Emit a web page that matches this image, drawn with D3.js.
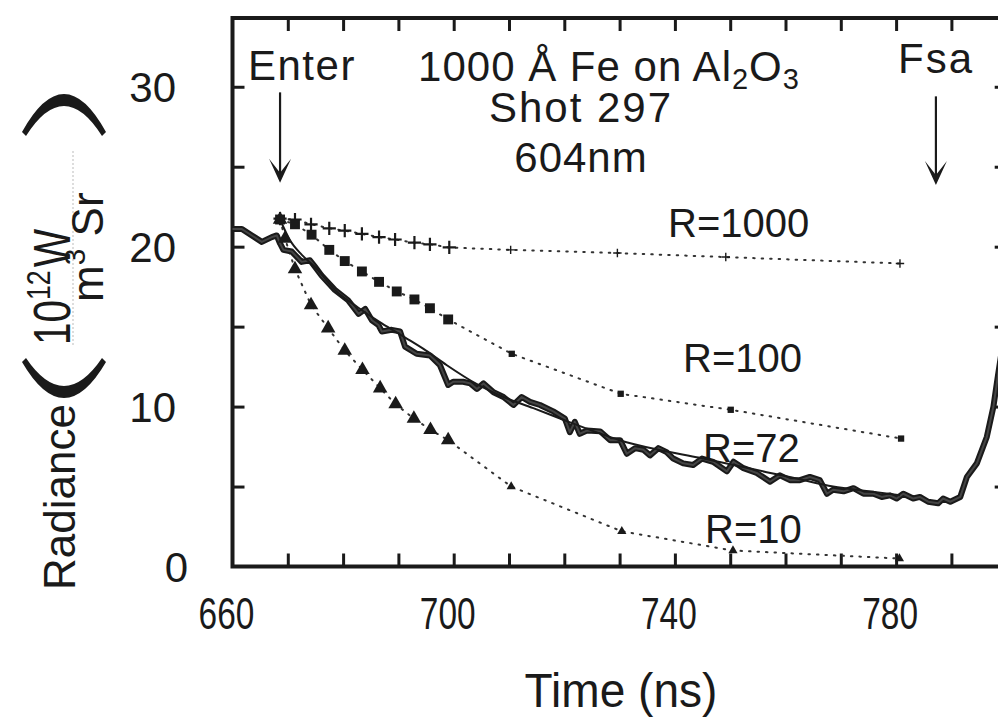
<!DOCTYPE html>
<meta charset="utf-8">
<style>
body { margin: 0; background: #fff; }
text { font-family: "Liberation Sans", Arial, Helvetica, sans-serif; fill: #1a1a1a; }
.frame { fill: none; stroke: #1a1a1a; stroke-width: 4; }
.ticks line { stroke: #1a1a1a; stroke-width: 3; }
.ticks path { display: none; }
</style>
<body>
<svg width="998" height="726" id="chart"></svg>
<script src="https://d3js.org/d3.v7.min.js"></script>
<script>

// measured radiance (thick noisy trace)
var measTime = [660, 661.7, 663.5, 665.3, 667.1, 668, 668.6, 669.2, 670.7, 672.5, 674, 674.9, 676.1, 678.5, 680.9,
    682.8, 684, 685.2, 686.4, 687, 688.8, 690.3, 691.2, 693.3, 695.7, 697.5, 699, 699.9, 701.7, 703, 704.2,
    705.4, 707.2, 709, 710.8, 712.3, 713.8, 715.6, 718, 720.1, 721, 721.9, 722.8, 724.1, 726.5, 728.3, 730.1,
    731.3, 732.8, 734.3, 735.5, 737, 738.5, 739.7, 741.5, 743.3, 744.9, 746.9, 749.4, 750.6, 752.4, 754.8,
    757.2, 759, 760.8, 762.6, 764.4, 766.2, 767.5, 768.6, 770.5, 772.3, 774.1, 775.9, 777.4, 778.9, 780.1,
    781.3, 783.1, 784.3, 785.8, 787.6, 788.5, 789.8, 791.6, 792.8, 794.6, 796.4, 797.6, 798.4, 800];
var measVal = [21.1, 21.1, 20.7, 20.3, 20.6, 20.7, 20.2, 19.8, 19.7, 19.05, 19.15, 18.75, 18.2, 17.3, 16.65,
    15.8, 16.1, 15.4, 15.1, 14.7, 14.8, 14.7, 13.75, 13.3, 13.2, 12.6, 11.35, 11.55, 11.55, 11.45, 11.1,
    11.45, 10.9, 10.6, 10.1, 10.6, 10.3, 10.1, 9.7, 9.25, 8.4, 9.05, 8.3, 8.5, 8.45, 7.9, 7.9,
    7.05, 7.4, 7.3, 6.95, 7.4, 7.15, 6.75, 6.45, 6.35, 6.75, 6.55, 5.95, 6.55, 6.15, 5.85,
    5.3, 5.7, 5.4, 5.4, 5.6, 5.4, 4.55, 4.8, 4.7, 4.9, 4.55, 4.55, 4.35, 4.45, 4.25,
    4.55, 4.25, 4.35, 4.05, 3.95, 4.25, 4.05, 4.35, 5.6, 6.45, 8.1, 10, 11.9, 15.5];

// R=72 fit (thin solid)
var fitTime = [668.6, 670.4, 672.5, 675, 678.5, 682.7, 687, 691.3, 695, 698.7, 704.2, 709, 714.4, 720.4,
    725, 730, 737, 744.5, 750, 756.6, 762, 768.6, 775, 780.7];
var fitVal = [21.7, 20.4, 19.5, 18.7, 17.3, 16.2, 15.2, 14.3, 13.5, 12.6, 11.4, 10.6, 9.9, 9.1,
    8.5, 7.9, 7.3, 6.8, 6.4, 5.9, 5.5, 5.0, 4.7, 4.45];

// model curves, markers joined by dotted lines
var r1000Time = [668.6, 671.3, 674.2, 677.5, 680.3, 683.4, 686.5, 689.4, 692.9, 695.7, 699.2, 710.3, 729.6, 749.2, 780.7];
var r1000Val = [21.75, 21.7, 21.4, 21.15, 21.0, 20.8, 20.6, 20.45, 20.25, 20.15, 19.95, 19.8, 19.6, 19.35, 18.95];
var r100Time = [668.6, 671.3, 674.3, 677.5, 680.3, 683.4, 686.5, 689.7, 692.9, 695.7, 699.0, 710.5, 730.2, 750.1, 780.9];
var r100Val = [21.7, 21.4, 20.75, 19.8, 19.1, 18.45, 17.8, 17.2, 16.7, 16.15, 15.45, 13.3, 10.8, 9.8, 8.0];
var r10Time = [668.6, 669.5, 671.3, 674.2, 677.3, 680.3, 683.5, 686.7, 689.5, 692.8, 695.8, 699.0, 710.4, 730.4, 750.5, 780.6];
var r10Val = [21.7, 20.5, 18.6, 16.35, 14.9, 13.5, 12.3, 11.15, 10.15, 9.25, 8.55, 7.9, 5.0, 2.2, 1.0, 0.5];

var xLabels = [660, 700, 740, 780];
var yLabels = [0, 10, 20, 30];
var xMinor = d3.range(670, 800, 10);
var yMinor = d3.range(5, 35, 5);

var svg = d3.select("svg");

var x = d3.scaleLinear().domain([660, 800]).range([232.5, 1006.7]);
var y = d3.scaleLinear().domain([0, 34.3]).range([566.5, 18]);

function zip(ts, vs) { return ts.map(function(t, i) { return [t, vs[i]]; }); }

// frame
svg.append("rect").attr("class", "frame")
    .attr("x", x(660)).attr("y", y(34.3))
    .attr("width", x(800) - x(660)).attr("height", y(0) - y(34.3));

// inward ticks on all four sides
svg.append("g").attr("class", "ticks").attr("transform", "translate(0," + y(0) + ")")
    .call(d3.axisBottom(x).tickValues(xMinor).tickSize(-13).tickFormat(""));
svg.append("g").attr("class", "ticks").attr("transform", "translate(0," + y(34.3) + ")")
    .call(d3.axisTop(x).tickValues(xMinor).tickSize(-13).tickFormat(""));
svg.append("g").attr("class", "ticks").attr("transform", "translate(" + x(660) + ",0)")
    .call(d3.axisLeft(y).tickValues(yMinor).tickSize(-12).tickFormat(""));
svg.append("g").attr("class", "ticks").attr("transform", "translate(" + x(800) + ",0)")
    .call(d3.axisRight(y).tickValues(yMinor).tickSize(-12).tickFormat(""));

// tick labels
svg.append("g").selectAll("text").data(xLabels).enter().append("text")
    .attr("transform", function(d) { return "translate(" + (x(d) - 6) + ",629) scale(0.76,1)"; })
    .attr("text-anchor", "middle").attr("font-size", 44)
    .text(function(d) { return d; });
svg.append("g").selectAll("text").data(yLabels).enter().append("text")
    .attr("x", function(d) { return d === 0 ? 188 : 176; })
    .attr("y", function(d) { return y(d) + 15; })
    .attr("text-anchor", "end").attr("font-size", 42)
    .text(function(d) { return d; });

svg.append("text").attr("transform", "translate(621,707) scale(0.96,1)")
    .attr("text-anchor", "middle").attr("font-size", 48).text("Time (ns)");

// y-axis title: Radiance ( 10^12 W / m^3 Sr )
var yt = svg.append("g");
yt.append("text").attr("transform", "translate(75,590) rotate(-90)")
    .attr("font-size", 44).text("Radiance");
yt.append("path").attr("fill", "#1a1a1a")
    .attr("d", "M22,362 Q64,434 106,362 L102,358 Q64,414 26,358 Z");
yt.append("path").attr("fill", "#1a1a1a")
    .attr("d", "M22,132 Q64,56 106,132 L102,136 Q64,76 26,136 Z");
var num = yt.append("text").attr("transform", "translate(70,345) rotate(-90) scale(0.78,1)").attr("font-size", 52);
num.append("tspan").text("10");
num.append("tspan").attr("font-size", 34).attr("dy", -20).text("12");
num.append("tspan").attr("dy", 20).attr("dx", 4).text("W");
yt.append("line").attr("x1", 73).attr("x2", 73).attr("y1", 345).attr("y2", 150)
    .attr("stroke", "#bbb").attr("stroke-width", 1).attr("stroke-dasharray", "2,2");
var den = yt.append("text").attr("transform", "translate(103,302) rotate(-90)").attr("font-size", 44);
den.append("tspan").text("m");
den.append("tspan").attr("font-size", 30).attr("dy", -18).text("3");
den.append("tspan").attr("dy", 18).text(" Sr");

// annotations
var title = svg.append("g").attr("font-size", 42);
var t1 = title.append("text").attr("x", 609).attr("y", 81).attr("text-anchor", "middle").attr("letter-spacing", 1);
t1.append("tspan").text("1000 \u00c5 Fe on Al");
t1.append("tspan").attr("font-size", 29).attr("dy", 8).text("2");
t1.append("tspan").attr("dy", -8).text("O");
t1.append("tspan").attr("font-size", 29).attr("dy", 8).text("3");
title.append("text").attr("x", 581).attr("y", 122).attr("text-anchor", "middle").attr("letter-spacing", 2).text("Shot 297");
title.append("text").attr("x", 581).attr("y", 172).attr("text-anchor", "middle").attr("letter-spacing", 1).text("604nm");
title.append("text").attr("x", 248).attr("y", 80).attr("letter-spacing", 1.5).text("Enter");
title.append("text").attr("x", 898).attr("y", 73).attr("letter-spacing", 2).text("Fsa");

function arrow(t, v0, v1) {
    var ax = x(t), ya = y(v0), yb = y(v1);
    svg.append("line").attr("x1", ax).attr("x2", ax).attr("y1", ya).attr("y2", yb - 8)
        .attr("stroke", "#1a1a1a").attr("stroke-width", 2.2);
    svg.append("path").attr("fill", "#1a1a1a")
        .attr("d", "M" + ax + "," + yb + "L" + (ax - 11) + "," + (yb - 24) + "L" + ax + "," + (yb - 10) +
            "L" + (ax + 11) + "," + (yb - 24) + "Z");
}
arrow(668.6, 29.65, 24.0);
arrow(787.2, 29.4, 23.85);

var rl = svg.append("g").attr("font-size", 40);
rl.append("text").attr("x", 668).attr("y", 237).text("R=1000");
rl.append("text").attr("x", 683).attr("y", 372).text("R=100");
rl.append("text").attr("x", 703).attr("y", 462).text("R=72");
rl.append("text").attr("x", 705).attr("y", 543).text("R=10");

var line = d3.line().x(function(d) { return x(d[0]); }).y(function(d) { return y(d[1]); });

// dotted model lines
[[r1000Time, r1000Val], [r100Time, r100Val], [r10Time, r10Val]].forEach(function(s) {
    svg.append("path").datum(zip(s[0], s[1])).attr("d", line)
        .attr("fill", "none").attr("stroke", "#333").attr("stroke-width", 2)
        .attr("stroke-dasharray", "1.5,7").attr("stroke-linecap", "round");
});

// measured trace and fit
svg.append("path").datum(zip(measTime, measVal)).attr("d", line)
    .attr("fill", "none").attr("stroke", "#1a1a1a").attr("stroke-width", 6)
    .attr("stroke-linejoin", "round");
svg.append("path").datum(zip(measTime, measVal)).attr("d", line)
    .attr("fill", "none").attr("stroke", "#444").attr("stroke-width", 2)
    .attr("stroke-linejoin", "round");
svg.append("path").datum(zip(fitTime, fitVal)).attr("d", line.curve(d3.curveMonotoneX))
    .attr("fill", "none").attr("stroke", "#1a1a1a").attr("stroke-width", 2);
line.curve(d3.curveLinear);

function msize(t) { return t > 705 ? 0.7 : 1.1; }

// markers
svg.append("g").selectAll("path").data(zip(r1000Time, r1000Val)).enter().append("path")
    .attr("transform", function(d) { return "translate(" + x(d[0]) + "," + y(d[1]) + ") scale(" + msize(d[0]) + ")"; })
    .attr("d", "M-6,0H6M0,-6V6").attr("stroke", "#1a1a1a").attr("stroke-width", 2);
svg.append("g").selectAll("rect").data(zip(r100Time, r100Val)).enter().append("rect")
    .attr("transform", function(d) { return "translate(" + x(d[0]) + "," + y(d[1]) + ") scale(" + msize(d[0]) + ")"; })
    .attr("x", -4.5).attr("y", -4.5).attr("width", 9).attr("height", 9).attr("fill", "#1a1a1a");
svg.append("g").selectAll("path").data(zip(r10Time, r10Val)).enter().append("path")
    .attr("transform", function(d) { return "translate(" + x(d[0]) + "," + y(d[1]) + ") scale(" + msize(d[0]) + ")"; })
    .attr("d", d3.symbol().type(d3.symbolTriangle).size(75)).attr("fill", "#1a1a1a");

</script>
</body>
